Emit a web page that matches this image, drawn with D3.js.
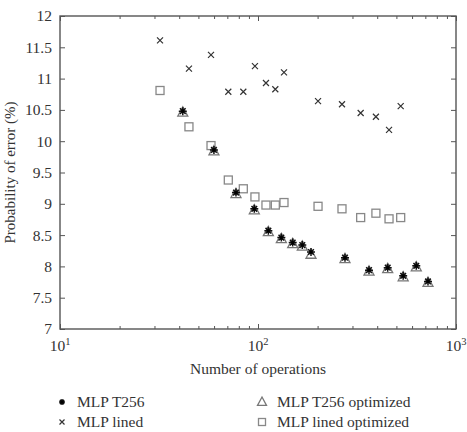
<!DOCTYPE html>
<html>
<head>
<meta charset="utf-8">
<script src="https://cdn.jsdelivr.net/npm/d3@7"></script>
<style>
    body { margin: 0; background: #fff; }
    text { font-family: "Liberation Serif", "DejaVu Serif", serif; fill: #333; }
</style>
</head>
<body>
<div id="chart"></div>
<script>
// number of operations for each series
const opsT256 = [41.7, 59.9, 77.4, 95.8, 112.8, 131.2, 149.7, 167.4, 185.2, 275, 363.6, 451.9, 541, 630, 722];
const errT256 = [10.48, 9.86, 9.18, 8.92, 8.57, 8.46, 8.38, 8.34, 8.23, 8.14, 7.94, 7.98, 7.85, 8.01, 7.76];
const errT256Opt = [10.46, 9.84, 9.16, 8.90, 8.55, 8.44, 8.36, 8.32, 8.19, 8.12, 7.92, 7.96, 7.83, 7.99, 7.74];

const opsLined = [32.0, 44.8, 57.9, 70.8, 84.3, 96.5, 109.7, 122.3, 135.3, 201, 265.6, 330, 394, 459, 525.6];
const errLined = [11.61, 11.16, 11.38, 10.79, 10.79, 11.20, 10.93, 10.83, 11.10, 10.64, 10.59, 10.45, 10.39, 10.18, 10.56];
const errLinedOpt = [10.81, 10.23, 9.93, 9.38, 9.24, 9.11, 8.98, 8.98, 9.02, 8.96, 8.92, 8.78, 8.85, 8.76, 8.78];

const yTicks = [7, 7.5, 8, 8.5, 9, 9.5, 10, 10.5, 11, 11.5, 12];
const xMajor = [10, 100, 1000];
const xMinor = [20, 30, 40, 50, 60, 70, 80, 90, 200, 300, 400, 500, 600, 700, 800, 900];
const legendNames = ["MLP T256", "MLP lined", "MLP T256 optimized", "MLP lined optimized"];

const margin = { top: 16, right: 11, bottom: 103, left: 60 };
const width = 467 - margin.left - margin.right;
const height = 432 - margin.top - margin.bottom;
const axisColor = "#555";

const svg = d3.select("#chart").append("svg")
    .attr("width", 467)
    .attr("height", 432);
const g = svg.append("g")
    .attr("transform", "translate(" + margin.left + "," + margin.top + ")");

const x = d3.scaleLog().domain([10, 1000]).range([0, width]);
const y = d3.scaleLinear().domain([7, 12]).range([height, 0]);

// inward ticks on all four sides
g.append("g").attr("transform", "translate(0," + height + ")")
    .call(d3.axisBottom(x).tickValues(xMajor).tickSize(-5).tickFormat(""));
g.append("g").attr("transform", "translate(0," + height + ")")
    .call(d3.axisBottom(x).tickValues(xMinor).tickSize(-3).tickFormat(""));
g.append("g")
    .call(d3.axisTop(x).tickValues(xMajor).tickSize(-5).tickFormat(""));
g.append("g")
    .call(d3.axisTop(x).tickValues(xMinor).tickSize(-3).tickFormat(""));
g.append("g")
    .call(d3.axisLeft(y).tickValues(yTicks).tickSize(-5).tickPadding(8).tickFormat(d3.format("")));
g.append("g").attr("transform", "translate(" + width + ",0)")
    .call(d3.axisRight(y).tickValues(yTicks).tickSize(-5).tickFormat(""));

g.selectAll(".domain").remove();
g.selectAll(".tick line").attr("stroke", axisColor).attr("stroke-width", 1);
g.selectAll(".tick text")
    .style("font-family", "'Liberation Serif', serif")
    .style("font-size", "15.5px")
    .attr("fill", "#333");

g.append("rect")
    .attr("width", width)
    .attr("height", height)
    .attr("fill", "none")
    .attr("stroke", axisColor)
    .attr("stroke-width", 1.4);

// x tick labels with superscript exponents
const xl = g.selectAll(".xlab").data(xMajor).enter().append("text")
    .attr("class", "xlab")
    .attr("x", d => x(d))
    .attr("y", height + 22)
    .attr("text-anchor", "middle")
    .style("font-size", "15.5px");
xl.append("tspan").text("10");
xl.append("tspan").attr("dy", -6).style("font-size", "10.5px").text(d => Math.round(Math.log10(d)));

g.append("text")
    .attr("x", width / 2)
    .attr("y", height + 45)
    .attr("text-anchor", "middle")
    .style("font-size", "15.5px")
    .text("Number of operations");

g.append("text")
    .attr("transform", "translate(" + (-45) + "," + (height / 2) + ") rotate(-90)")
    .attr("text-anchor", "middle")
    .style("font-size", "15px")
    .text("Probability of error (%)");

// marker drawing
function star(sel, s) {
    const p = d3.path();
    for (let i = 0; i < 4; i++) {
        const a = i * Math.PI / 4;
        p.moveTo(-s * Math.cos(a), -s * Math.sin(a));
        p.lineTo(s * Math.cos(a), s * Math.sin(a));
    }
    sel.append("path").attr("d", p.toString()).attr("stroke", "#111").attr("stroke-width", 1.5).attr("fill", "none");
    sel.append("circle").attr("r", 1.6).attr("fill", "#000");
}
function cross(sel, s) {
    sel.append("path").attr("d", `M${-s},${-s}L${s},${s}M${-s},${s}L${s},${-s}`)
        .attr("stroke", "#333").attr("stroke-width", 1.2).attr("fill", "none");
}
function square(sel, s) {
    sel.append("rect").attr("x", -s).attr("y", -s).attr("width", 2 * s).attr("height", 2 * s)
        .attr("stroke", "#888").attr("stroke-width", 1.3).attr("fill", "none");
}
function triangle(sel, s) {
    sel.append("path").attr("d", `M0,${-s * 1.1}L${s},${s * 0.75}L${-s},${s * 0.75}Z`)
        .attr("stroke", "#777").attr("stroke-width", 1.3).attr("fill", "none");
}

function series(ops, errs, draw, size) {
    g.append("g").selectAll("g").data(ops).enter().append("g")
        .attr("transform", (d, i) => "translate(" + x(d) + "," + y(errs[i]) + ")")
        .each(function () { draw(d3.select(this), size); });
}

series(opsLined, errLinedOpt, square, 4);
series(opsLined, errLined, cross, 3);
series(opsT256, errT256Opt, triangle, 5);
series(opsT256, errT256, star, 4);

// legend
const legendItems = [
    { name: legendNames[0], draw: star, size: 3, lx: 62, ly: 402 },
    { name: legendNames[1], draw: cross, size: 2.5, lx: 62, ly: 422 },
    { name: legendNames[2], draw: triangle, size: 4.5, lx: 262, ly: 402 },
    { name: legendNames[3], draw: square, size: 3.5, lx: 262, ly: 422 }
];
const leg = svg.selectAll(".leg").data(legendItems).enter().append("g")
    .attr("class", "leg")
    .attr("transform", d => "translate(" + d.lx + "," + d.ly + ")");
leg.each(function (d) { d.draw(d3.select(this), d.size); });
leg.append("text")
    .attr("x", 15)
    .attr("y", 5)
    .style("font-size", "15.5px")
    .text(d => d.name);
</script>
</body>
</html>
